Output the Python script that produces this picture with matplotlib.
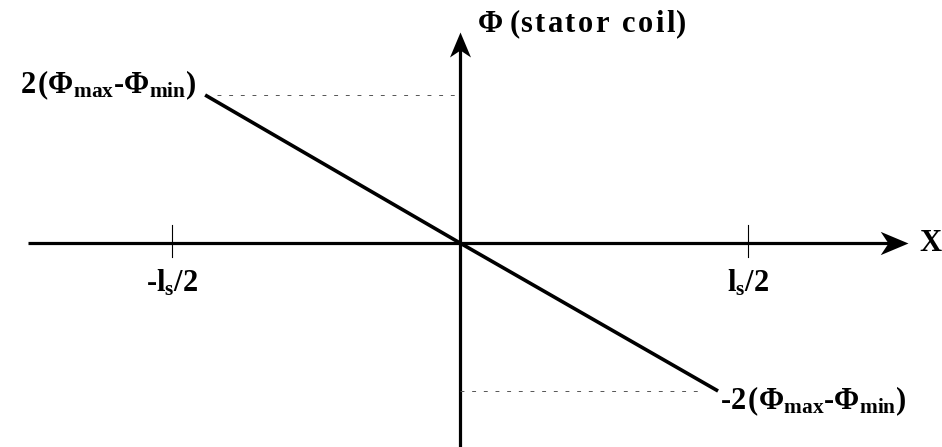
import numpy as np
import matplotlib.pyplot as plt
from matplotlib.path import Path

plt.rcParams['font.family'] = ['Liberation Serif', 'DejaVu Serif']
plt.rcParams['font.weight'] = 'bold'
plt.rcParams['mathtext.fontset'] = 'custom'
plt.rcParams['mathtext.rm'] = 'Liberation Serif:bold'
plt.rcParams['mathtext.it'] = 'Liberation Serif:bold'
plt.rcParams['mathtext.bf'] = 'Liberation Serif:bold'

# position along the coil in units of l_s/2, flux in units of 2(Phi_max - Phi_min)
x_pos = [-0.885, 0.0, 0.896]
phi = [1.0, 0.0, -1.0]
tick_x = [-1.0, 1.0]
tick_labels = [r'-l$_{\rm s}$/2', r'l$_{\rm s}$/2']
phi_labels = ['2\u200a(' + r'$\Phi_{\rm max}$-$\Phi_{\rm min}$)',
              '-2\u200a(' + r'$\Phi_{\rm max}$-$\Phi_{\rm min}$)']
y_title = 'stator coil'


def spaced(s):
    return '\u200a'.join(s)


fig = plt.figure(figsize=(9.42, 4.47), dpi=100)
ax = fig.add_axes([0, 0, 1, 1])
ax.set_xlim(-460 / 288, 482 / 288)
ax.set_ylim(-204 / 148, 243 / 148)
ax.axis('off')

# stealth-style arrow heads (tip at origin)
head_r = Path([(0, 0), (-1, 0.42), (-0.72, 0), (-1, -0.42), (0, 0)],
              [Path.MOVETO, Path.LINETO, Path.LINETO, Path.LINETO, Path.CLOSEPOLY])
head_u = Path([(0, 0), (0.42, -1), (0, -0.72), (-0.42, -1), (0, 0)],
              [Path.MOVETO, Path.LINETO, Path.LINETO, Path.LINETO, Path.CLOSEPOLY])

x_tip = 1.556
y_tip = 1.426
ax.plot([-1.5, x_tip - 0.05], [0, 0], color='black', lw=2.3, solid_capstyle='butt')
ax.plot([0, 0], [-1.4, y_tip - 0.1], color='black', lw=2.3, solid_capstyle='butt')
ax.plot([x_tip], [0], marker=head_r, ms=40, color='black', mew=0)
ax.plot([0], [y_tip], marker=head_u, ms=36, color='black', mew=0)

# ticks at +-l_s/2
for tx, tl in zip(tick_x, tick_labels):
    ax.plot([tx, tx], [-14 / 148, 18 / 148], color='black', lw=0.8)
    ax.text(tx, -0.17, tl, ha='center', va='top', fontsize=22, fontweight='bold')

# flux line
ax.plot(x_pos, phi, color='black', lw=2.6, solid_capstyle='butt')

# dashed guides to the axis
ax.plot([-0.844, 0], [phi[0], phi[0]], color='#555555', lw=0.7, ls=(0, (4, 8)))
ax.plot([0, 0.833], [phi[2], phi[2]], color='#555555', lw=0.7, ls=(0, (4, 8)))

ax.text(x_pos[0] - 0.03, phi[0] + 0.01, phi_labels[0], ha='right', va='baseline',
        fontsize=22, fontweight='bold')
ax.text(x_pos[2] + 0.007, phi[2] - 0.12, phi_labels[1], ha='left', va='baseline',
        fontsize=22, fontweight='bold')

ax.text(0.058, 1.426, r'$\Phi$ (' + spaced(y_title) + ')', ha='left', va='baseline',
        fontsize=22, fontweight='bold')
ax.text(1.595, 0, 'X', ha='left', va='center', fontsize=22, fontweight='bold')

fig.savefig('out.png', dpi=100)
